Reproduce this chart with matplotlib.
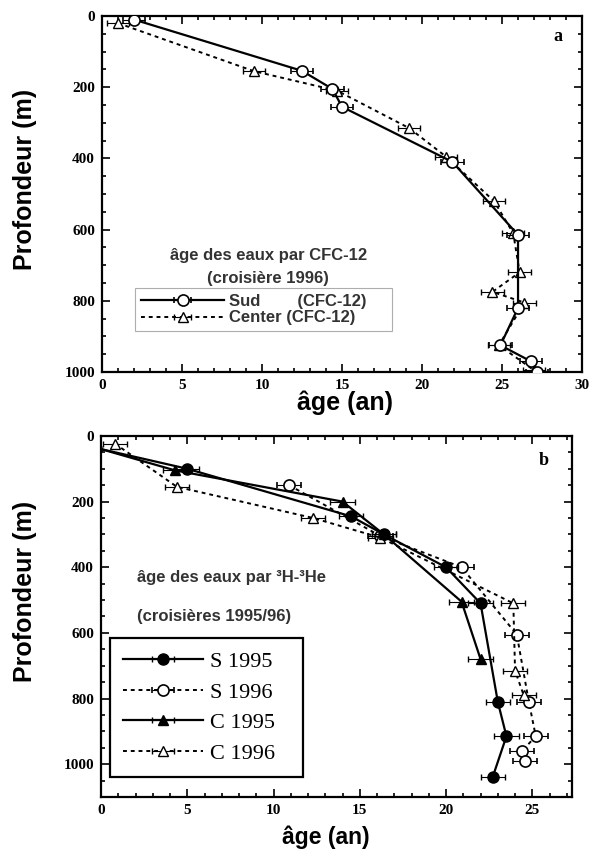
import matplotlib.pyplot as plt
from matplotlib.ticker import MultipleLocator

# panel a : CFC-12 ages (cruise 1996)
sud_age = [2.0, 12.5, 14.4, 15.0, 21.9, 26.0, 26.0, 24.9, 26.8, 27.2]
sud_depth = [10, 154, 205, 255, 410, 615, 820, 925, 970, 1000]
center_age = [1.0, 9.5, 14.7, 19.2, 21.5, 24.5, 25.7, 26.1, 24.4, 26.4, 24.8, 27.0]
center_depth = [20, 155, 210, 315, 395, 520, 610, 720, 775, 805, 925, 995]
err_a = 0.7

# panel b : 3H-3He ages (cruises 1995/96)
s95_age = [0.0, 5.0, 14.5, 16.4, 20.0, 22.0, 23.0, 23.5, 22.7]
s95_depth = [40, 100, 245, 300, 400, 510, 810, 915, 1040]
s96_age = [10.9, 16.2, 20.9, 24.1, 24.8, 25.2, 24.4, 24.6]
s96_depth = [150, 305, 400, 605, 810, 915, 960, 990]
c95_age = [0.0, 4.3, 14.0, 16.4, 20.9, 22.0]
c95_depth = [40, 105, 200, 300, 505, 680]
c96_age = [0.8, 4.4, 12.3, 16.2, 23.9, 24.0, 24.5]
c96_depth = [23, 155, 250, 310, 510, 715, 790]
err_b = 0.7

SANS = 'Liberation Sans'
SERIF = 'Liberation Serif'
dotted = (0, (2, 2))

fig = plt.figure(figsize=(5.98, 8.52), dpi=100)
ax1 = fig.add_axes([0.1706, 0.5634, 0.8027, 0.4178])
ax2 = fig.add_axes([0.1689, 0.0646, 0.7876, 0.4237])


def style_axes(ax, xsize):
    ax.tick_params(which='both', direction='in', top=True, right=True, width=1.2)
    ax.tick_params(which='major', length=6, pad=5)
    ax.tick_params(which='minor', length=3)
    for sp in ax.spines.values():
        sp.set_linewidth(1.6)
    for lab in ax.get_xticklabels() + ax.get_yticklabels():
        lab.set_fontfamily(SERIF)
        lab.set_fontweight('bold')
        lab.set_fontsize(11)
    ax.set_ylabel('Profondeur (m)', fontfamily=SANS, fontweight='bold', fontsize=18)
    ax.set_xlabel('âge (an)', fontfamily=SANS, fontweight='bold', fontsize=xsize)


def skip_first(ages, err):
    # no error bar on the surface point that sits on the axis
    return [0.0 if a == 0 else err for a in ages]


# ---- panel a
ax1.errorbar(sud_age, sud_depth, xerr=err_a, color='black', lw=1.6, marker='o', ms=8,
             mfc='white', mec='black', mew=1.2, capsize=2, elinewidth=0.8,
             label='Sud        (CFC-12)', zorder=3)
ax1.errorbar(center_age, center_depth, xerr=err_a, color='black', lw=1.4, ls=dotted,
             marker='^', ms=7, mfc='white', mec='black', mew=1.0, capsize=2, elinewidth=0.8,
             label='Center (CFC-12)', zorder=2)
ax1.set_xlim(0, 30)
ax1.set_ylim(1000, 0)
ax1.xaxis.set_major_locator(MultipleLocator(5))
ax1.xaxis.set_minor_locator(MultipleLocator(1))
ax1.yaxis.set_major_locator(MultipleLocator(200))
ax1.yaxis.set_minor_locator(MultipleLocator(50))
style_axes(ax1, 18)
ax1.yaxis.set_label_coords(-0.135, 0.54)
ax1.xaxis.set_label_coords(0.506, -0.052)
ax1.text(0.94, 0.93, 'a', transform=ax1.transAxes, fontfamily=SERIF, fontweight='bold', fontsize=13)
ax1.text(0.346, 0.328, 'âge des eaux par CFC-12', transform=ax1.transAxes, ha='center', va='center',
         fontfamily=SANS, fontweight='bold', fontsize=12, color='#333333')
ax1.text(0.346, 0.263, '(croisière 1996)', transform=ax1.transAxes, ha='center', va='center',
         fontfamily=SANS, fontweight='bold', fontsize=12, color='#333333')
leg1 = ax1.legend(loc='upper left', bbox_to_anchor=(0.069, 0.081, 0.535, 0.155), mode='expand',
                  prop={'family': SANS, 'weight': 'bold', 'size': 12}, handlelength=5,
                  fancybox=False, borderpad=0.35, labelspacing=0.1, handletextpad=0.3,
                  borderaxespad=0)
leg1.get_frame().set_edgecolor('#999999')
leg1.get_frame().set_linewidth(0.8)
for t in leg1.get_texts():
    t.set_color('#333333')

# ---- panel b
ax2.errorbar(s95_age, s95_depth, xerr=skip_first(s95_age, err_b), color='black', lw=1.6,
             marker='o', ms=8, markevery=slice(1, None), mfc='black', mec='black',
             capsize=2, elinewidth=0.8, label='S 1995', zorder=4)
ax2.errorbar(s96_age, s96_depth, xerr=err_b, color='black', lw=1.4, ls=dotted, marker='o', ms=8,
             mfc='white', mec='black', mew=1.2, capsize=2, elinewidth=0.8, label='S 1996', zorder=3)
ax2.errorbar(c95_age, c95_depth, xerr=skip_first(c95_age, err_b), color='black', lw=1.6,
             marker='^', ms=7, markevery=slice(1, None), mfc='black', mec='black',
             capsize=2, elinewidth=0.8, label='C 1995', zorder=4)
ax2.errorbar(c96_age, c96_depth, xerr=err_b, color='black', lw=1.4, ls=dotted, marker='^', ms=7,
             mfc='white', mec='black', mew=1.0, capsize=2, elinewidth=0.8, label='C 1996', zorder=3)
ax2.set_xlim(0, 27.3)
ax2.set_ylim(1100, 0)
ax2.xaxis.set_major_locator(MultipleLocator(5))
ax2.xaxis.set_minor_locator(MultipleLocator(1))
ax2.yaxis.set_major_locator(MultipleLocator(200))
ax2.yaxis.set_minor_locator(MultipleLocator(50))
style_axes(ax2, 16.5)
ax2.yaxis.set_label_coords(-0.136, 0.57)
ax2.xaxis.set_label_coords(0.478, -0.078)
ax2.text(0.93, 0.92, 'b', transform=ax2.transAxes, fontfamily=SERIF, fontweight='bold', fontsize=13)
ax2.text(0.076, 0.607, 'âge des eaux par ³H-³He', transform=ax2.transAxes, va='center',
         fontfamily=SANS, fontweight='bold', fontsize=12, color='#333333')
ax2.text(0.076, 0.499, '(croisières 1995/96)', transform=ax2.transAxes, va='center',
         fontfamily=SANS, fontweight='bold', fontsize=12, color='#333333')
leg2 = ax2.legend(loc='upper left', bbox_to_anchor=(0.019, 0.061, 0.41, 0.379), mode='expand',
                  prop={'family': SERIF, 'size': 16}, handlelength=3.6, fancybox=False,
                  borderpad=0.6, labelspacing=0.45, handletextpad=0.3, borderaxespad=0)
leg2.get_frame().set_edgecolor('black')
leg2.get_frame().set_linewidth(1.6)
leg2.get_frame().set_alpha(1)

fig.savefig('out.png', dpi=100)
